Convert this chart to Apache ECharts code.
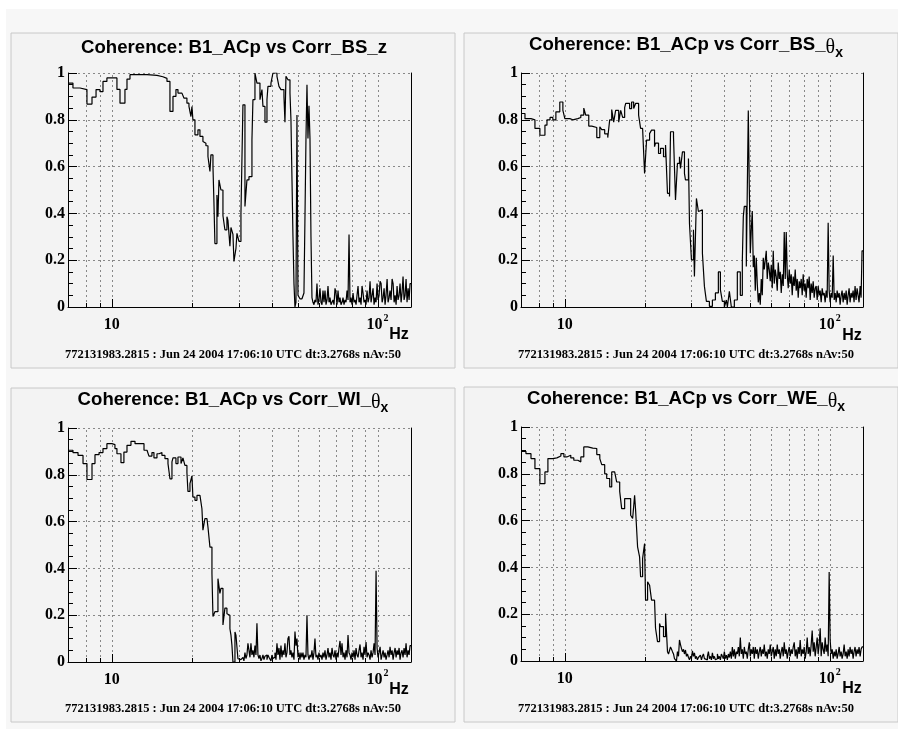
<!DOCTYPE html>
<html><head><meta charset="utf-8">
<script src="https://cdn.jsdelivr.net/npm/echarts@6/dist/echarts.min.js"></script>
<style>html,body{margin:0;padding:0;background:#fff;}#c{width:898px;height:729px;}</style>
</head><body><div id="c"></div>
<script>
// ---- tick / grid frequencies (Hz) ----
const gridFreqs = [8, 9, 10, 20, 30, 40, 50, 60, 70, 80, 90, 100];
const majorFreqs = [10, 100];
const xMinHz = 6.83, xMaxHz = 133.6;

// ---- titles / footer ----
const panelTitles = [
  ['Coherence: B1_ACp vs Corr_BS_z', '', ''],
  ['Coherence: B1_ACp vs Corr_BS_', 'θ', 'x'],
  ['Coherence: B1_ACp vs Corr_WI_', 'θ', 'x'],
  ['Coherence: B1_ACp vs Corr_WE_', 'θ', 'x']
];
const footerText = '772131983.2815 : Jun 24 2004 17:06:10 UTC dt:3.2768s nAv:50';
const unitText = 'Hz';

// ---- coherence data: [frequency Hz, coherence] (left bin edges) ----
const bsZ = [[6.83,0.957],[7.13,0.936],[7.58,0.929],[8.05,0.867],[8.41,0.897],[8.71,0.929],[9.01,0.92],[9.25,0.964],[9.57,0.979],[10.44,0.93],[10.72,0.871],[11.19,0.93],[11.39,0.974],[11.69,0.993],[13.55,0.99],[14.77,0.984],[15.55,0.977],[16.11,0.964],[16.53,0.836],[16.97,0.90],[17.41,0.929],[17.72,0.914],[18.34,0.907],[18.66,0.893],[19.15,0.871],[19.49,0.857],[19.83,0.814],[20.0,0.857],[20.17,0.80],[20.53,0.736],[21.07,0.757],[21.44,0.729],[22.0,0.707],[22.38,0.70],[22.58,0.689],[22.98,0.643],[23.38,0.579],[23.58,0.65],[24.0,0.60],[24.2,0.45],[24.41,0.271],[24.84,0.479],[25.06,0.386],[25.28,0.543],[25.72,0.50],[26.17,0.39],[26.62,0.33],[27.09,0.386],[27.33,0.37],[27.8,0.26],[28.05,0.34],[28.54,0.31],[28.79,0.195],[29.29,0.25],[29.55,0.315],[30.06,0.28],[30.59,0.40],[31.12,0.864],[31.67,0.43],[32.22,0.543],[32.79,0.557],[33.65,0.714],[33.94,0.886],[34.54,1.0],[35.14,0.957],[36.07,0.886],[36.7,0.929],[37.02,0.857],[37.67,0.79],[38.33,0.886],[38.66,0.943],[39.68,0.957],[40.37,1.0],[41.8,0.986],[42.53,0.943],[43.27,0.929],[44.41,0.90],[44.8,0.79],[45.19,0.986],[45.98,0.971],[46.79,0.914],[47.19,0.80],[47.6,0.55],[48.02,0.30],[48.44,0.10],[48.86,0.0],[49.28,0.02],[49.71,0.82],[50.15,0.05],[51.02,0.035],[51.92,0.03],[52.82,0.06],[53.28,0.38],[53.75,0.72],[54.22,0.95],[54.69,0.72],[55.17,0.86],[55.65,0.72],[56.13,0.30],
[56.62,0.04],[57.11,0.02],[57.61,0.01],[58.11,0.03],[58.62,0.02],[59.13,0.10],[59.65,0.01],[60.17,0.03],[60.69,0.08],[61.22,0.02],[61.76,0.01],[62.3,0.07],[62.84,0.02],[63.39,0.07],[63.94,0.01],[64.5,0.03],[65.06,0.09],[65.63,0.02],[66.2,0.04],[66.78,0.01],[67.36,0.02],[67.95,0.03],[68.54,0.01],[69.14,0.08],[69.74,0.06],[70.35,0.01],[70.96,0.07],[71.58,0.02],[72.2,0.04],[72.83,0.01],[73.47,0.02],[74.11,0.04],[74.75,0.01],[75.4,0.03],[76.06,0.02],[76.72,0.07],[77.39,0.03],[78.07,0.31],[78.75,0.02],[79.43,0.04],[80.13,0.01],[80.82,0.06],[81.53,0.02],[82.24,0.03],[82.96,0.01],[83.68,0.05],[84.41,0.09],[85.14,0.02],[85.89,0.04],[86.64,0.01],[87.39,0.09],[88.15,0.06],[88.93,0.02],[89.7,0.03],[90.48,0.01],[91.27,0.07],[92.07,0.02],[92.87,0.04],[93.68,0.11],[94.49,0.02],[95.32,0.05],[96.15,0.08],[96.99,0.01],[97.83,0.04],[98.69,0.02],[99.55,0.10],[100.4,0.03],[101.3,0.05],[102.2,0.11],[103.1,0.10],[104.0,0.02],[104.9,0.04],[105.8,0.08],[106.7,0.01],[107.6,0.05],[108.6,0.12],[109.5,0.02],[110.5,0.04],[111.4,0.07],[112.4,0.03],[113.4,0.12],[114.4,0.10],[115.4,0.02],[116.4,0.05],[117.4,0.01],[118.4,0.09],[119.4,0.03],[120.5,0.05],[121.5,0.10],[122.6,0.02],[123.6,0.06],[124.7,0.13],[125.8,0.03],[126.9,0.05],[128.0,0.12],[129.1,0.02],[130.3,0.08],[131.4,0.03],[132.5,0.10],[133.6,0.10]];

const bsThetaX = [[6.83,0.827],[7.07,0.805],[7.45,0.80],[7.71,0.763],[8.05,0.734],[8.41,0.777],[8.56,0.80],[8.79,0.81],[9.01,0.80],[9.25,0.834],[9.57,0.876],[9.83,0.84],[10.0,0.805],[10.44,0.80],[10.72,0.805],[11.19,0.81],[11.49,0.82],[11.79,0.85],[11.99,0.82],[12.31,0.773],[12.64,0.767],[13.2,0.724],[13.55,0.77],[13.78,0.758],[14.14,0.74],[14.52,0.724],[14.77,0.80],[15.03,0.844],[15.29,0.79],[15.55,0.84],[15.97,0.79],[16.25,0.84],[16.53,0.81],[16.82,0.852],[16.97,0.87],[17.56,0.848],[17.87,0.876],[18.19,0.848],[18.5,0.87],[18.99,0.82],[19.32,0.763],[19.66,0.756],[20.0,0.571],[20.35,0.713],[20.89,0.741],[21.25,0.756],[21.81,0.685],[22.0,0.70],[22.58,0.656],[22.98,0.678],[23.58,0.642],[24.0,0.692],[24.41,0.486],[24.84,0.472],[25.06,0.749],[25.72,0.727],[26.17,0.457],[26.62,0.614],[27.09,0.642],[27.33,0.592],[27.8,0.663],[28.29,0.571],[28.54,0.543],[29.29,0.635],[29.55,0.358],[30.06,0.202],[30.59,0.33],[30.85,0.13],[31.39,0.464],[31.94,0.408],[32.5,0.415],[33.07,0.23],[33.65,0.088],[34.24,0.024],[35.14,0.003],[36.07,0.03],[37.02,0.06],[37.99,0.15],[38.66,0.074],[39.33,0.024],[40.02,0.0],[40.72,0.03],[41.08,0.0],[41.8,0.067],[42.53,0.0],[43.65,0.03],[44.8,0.15],[45.98,0.05],[46.79,0.20],[47.19,0.386],[47.6,0.43],[48.44,0.173],[49.28,0.84],[49.71,0.514],[50.15,0.23],[50.58,0.33],[51.02,0.41],[51.47,0.17],
[51.92,0.22],[52.37,0.07],[52.82,0.21],[53.28,0.10],[53.75,0.02],[54.22,0.06],[54.69,0.01],[55.17,0.12],[55.65,0.05],[56.13,0.21],[56.62,0.16],[57.11,0.20],[57.61,0.24],[58.11,0.12],[58.62,0.19],[59.13,0.16],[59.65,0.11],[60.17,0.18],[60.69,0.08],[61.22,0.24],[61.76,0.10],[62.3,0.16],[62.84,0.13],[63.39,0.07],[63.94,0.19],[64.5,0.12],[65.06,0.15],[65.63,0.06],[66.2,0.14],[66.78,0.09],[67.36,0.32],[67.95,0.12],[68.54,0.32],[69.14,0.14],[69.74,0.08],[70.35,0.16],[70.96,0.10],[71.58,0.14],[72.2,0.05],[72.83,0.13],[73.47,0.09],[74.11,0.16],[74.75,0.07],[75.4,0.12],[76.06,0.04],[76.72,0.11],[77.39,0.08],[78.07,0.12],[78.75,0.05],[79.43,0.14],[80.13,0.07],[80.82,0.10],[81.53,0.04],[82.24,0.12],[82.96,0.08],[83.68,0.13],[84.41,0.03],[85.14,0.10],[85.89,0.06],[86.64,0.11],[87.39,0.04],[88.15,0.08],[88.93,0.09],[89.7,0.03],[90.48,0.09],[91.27,0.05],[92.07,0.07],[92.87,0.02],[93.68,0.08],[94.49,0.05],[95.32,0.06],[96.15,0.02],[96.99,0.07],[97.83,0.04],[98.69,0.36],[99.55,0.07],[100.4,0.02],[101.3,0.06],[102.2,0.04],[103.1,0.22],[104.0,0.03],[104.9,0.06],[105.8,0.02],[106.7,0.07],[107.6,0.04],[108.6,0.06],[109.5,0.01],[110.5,0.05],[111.4,0.07],[112.4,0.02],[113.4,0.06],[114.4,0.03],[115.4,0.07],[116.4,0.01],[117.4,0.05],[118.4,0.08],[119.4,0.02],[120.5,0.06],[121.5,0.04],[122.6,0.07],[123.6,0.02],[124.7,0.09],[125.8,0.03],[126.9,0.08],[128.0,0.05],[129.1,0.02],[130.3,0.09],[131.4,0.04],[132.5,0.24],[133.6,0.24]];

const wiThetaX = [[6.83,0.905],[7.13,0.895],[7.45,0.883],[7.78,0.848],[8.05,0.78],[8.41,0.848],[8.63,0.886],[8.94,0.895],[9.25,0.912],[9.57,0.933],[10.0,0.929],[10.26,0.912],[10.44,0.89],[10.81,0.852],[11.09,0.897],[11.39,0.926],[11.79,0.943],[12.21,0.933],[13.2,0.905],[13.55,0.897],[13.78,0.88],[14.14,0.895],[14.39,0.872],[14.77,0.89],[15.03,0.895],[15.42,0.883],[15.83,0.869],[16.25,0.848],[16.53,0.783],[16.82,0.855],[16.97,0.872],[17.41,0.848],[17.72,0.876],[18.19,0.848],[18.5,0.872],[18.82,0.84],[19.15,0.809],[19.32,0.729],[19.66,0.762],[20.0,0.795],[20.17,0.705],[20.53,0.691],[20.89,0.712],[21.44,0.705],[21.81,0.655],[22.0,0.563],[22.38,0.613],[22.78,0.615],[22.98,0.577],[23.38,0.491],[23.79,0.377],[24.0,0.194],[24.41,0.215],[25.06,0.356],[25.49,0.293],[25.72,0.315],[26.17,0.158],[26.62,0.23],[27.09,0.206],[27.33,0.20],[27.8,0.142],[28.05,0.115],[28.29,0.071],[28.54,0.0],[29.04,0.128],[29.29,0.115],[29.8,0.014],
[30.06,0.02],[30.32,0.01],[30.59,0.005],[30.85,0.01],[31.12,0.02],[31.39,0.005],[31.67,0.04],[31.94,0.015],[32.22,0.03],[32.5,0.08],[32.79,0.05],[33.07,0.02],[33.36,0.08],[33.65,0.03],[33.94,0.05],[34.24,0.02],[34.54,0.07],[34.84,0.03],[35.14,0.165],[35.45,0.03],[35.76,0.015],[36.07,0.03],[36.38,0.005],[36.7,0.015],[37.02,0.03],[37.34,0.01],[37.67,0.025],[37.99,0.03],[38.33,0.01],[38.66,0.03],[39.0,0.02],[39.33,0.025],[39.68,0.005],[40.02,0.03],[40.37,0.015],[40.72,0.02],[41.08,0.04],[41.44,0.01],[41.8,0.08],[42.16,0.03],[42.53,0.06],[42.9,0.01],[43.27,0.07],[43.65,0.02],[44.03,0.05],[44.41,0.03],[44.8,0.08],[45.19,0.02],[45.58,0.04],[45.98,0.10],[46.38,0.11],[46.79,0.03],[47.19,0.05],[47.6,0.02],[48.02,0.04],[48.44,0.01],[48.86,0.13],[49.28,0.07],[49.71,0.10],[50.15,0.02],[50.58,0.04],[51.02,0.01],[51.47,0.04],[51.92,0.02],[52.37,0.04],[52.82,0.01],[53.28,0.03],[53.75,0.02],[54.22,0.20],[54.69,0.03],[55.17,0.01],[55.65,0.03],[56.13,0.02],[56.62,0.05],[57.11,0.01],[57.61,0.04],[58.11,0.10],[58.62,0.02],[59.13,0.03],[59.65,0.01],[60.17,0.04],[60.69,0.02],[61.22,0.03],[61.76,0.01],[62.3,0.04],[62.84,0.02],[63.39,0.05],[63.94,0.01],[64.5,0.03],[65.06,0.06],[65.63,0.02],[66.2,0.04],[66.78,0.01],[67.36,0.06],[67.95,0.03],[68.54,0.02],[69.14,0.05],[69.74,0.01],[70.35,0.04],[70.96,0.02],[71.58,0.06],[72.2,0.09],[72.83,0.03],[73.47,0.08],[74.11,0.02],[74.75,0.04],[75.4,0.01],[76.06,0.05],[76.72,0.02],[77.39,0.115],[78.07,0.04],[78.75,0.03],[79.43,0.01],[80.13,0.04],[80.82,0.02],[81.53,0.05],[82.24,0.01],[82.96,0.06],[83.68,0.03],[84.41,0.02],[85.14,0.05],[85.89,0.075],[86.64,0.02],[87.39,0.04],[88.15,0.01],[88.93,0.065],[89.7,0.03],[90.48,0.085],[91.27,0.02],[92.07,0.04],[92.87,0.03],[93.68,0.01],[94.49,0.05],[95.32,0.02],[96.15,0.04],[96.99,0.08],[97.83,0.03],[98.69,0.39],[99.55,0.06],[100.4,0.02],[101.3,0.04],[102.2,0.065],[103.1,0.01],[104.0,0.03],[104.9,0.05],[105.8,0.02],[106.7,0.04],[107.6,0.01],[108.6,0.03],[109.5,0.05],[110.5,0.02],[111.4,0.065],[112.4,0.03],[113.4,0.05],[114.4,0.01],[115.4,0.04],[116.4,0.06],[117.4,0.02],[118.4,0.05],[119.4,0.03],[120.5,0.06],[121.5,0.01],[122.6,0.04],[123.6,0.05],[124.7,0.02],[125.8,0.06],[126.9,0.03],[128.0,0.08],[129.1,0.02],[130.3,0.05],[131.4,0.03],[132.5,0.07],[133.6,0.07]];

const weThetaX = [[6.83,0.896],[7.13,0.886],[7.45,0.865],[7.71,0.822],[8.05,0.758],[8.41,0.808],[8.63,0.865],[9.01,0.868],[9.33,0.876],[9.66,0.886],[9.92,0.872],[10.17,0.879],[10.53,0.868],[10.81,0.858],[11.19,0.851],[11.49,0.872],[11.79,0.915],[12.21,0.91],[12.75,0.908],[13.2,0.882],[13.55,0.865],[13.78,0.839],[14.14,0.80],[14.39,0.78],[14.77,0.744],[15.03,0.808],[15.42,0.80],[15.69,0.765],[16.11,0.725],[16.39,0.651],[16.82,0.694],[17.72,0.623],[18.03,0.609],[18.34,0.708],[18.5,0.644],[18.82,0.488],[19.15,0.445],[19.32,0.36],[19.66,0.438],[20.0,0.502],[20.17,0.26],[20.53,0.339],[20.89,0.324],[21.25,0.26],[21.81,0.253],[22.0,0.14],[22.38,0.083],[22.78,0.16],[22.98,0.147],[23.58,0.104],[24.0,0.203],
[24.41,0.04],[24.63,0.03],[24.84,0.026],[25.06,0.06],[25.28,0.05],[25.49,0.04],[25.72,0.03],[25.94,0.01],[26.17,0.005],[26.39,0.0],[26.62,0.04],[26.86,0.02],[27.09,0.09],[27.33,0.07],[27.56,0.054],[27.8,0.04],[28.05,0.05],[28.29,0.03],[28.54,0.047],[28.79,0.02],[29.04,0.03],[29.29,0.015],[29.55,0.005],[29.8,0.02],[30.06,0.01],[30.32,0.043],[30.59,0.02],[30.85,0.035],[31.12,0.01],[31.39,0.02],[31.67,0.005],[31.94,0.015],[32.22,0.01],[32.5,0.025],[32.79,0.005],[33.07,0.02],[33.36,0.03],[33.65,0.01],[33.94,0.015],[34.24,0.005],[34.54,0.02],[34.84,0.04],[35.14,0.01],[35.45,0.02],[35.76,0.005],[36.07,0.035],[36.38,0.01],[36.7,0.02],[37.02,0.005],[37.34,0.01],[37.67,0.03],[37.99,0.01],[38.33,0.02],[38.66,0.005],[39.0,0.03],[39.33,0.02],[39.68,0.01],[40.02,0.04],[40.37,0.01],[40.72,0.025],[41.08,0.005],[41.44,0.03],[41.8,0.015],[42.16,0.04],[42.53,0.01],[42.9,0.06],[43.27,0.02],[43.65,0.05],[44.03,0.01],[44.41,0.04],[44.8,0.03],[45.19,0.06],[45.58,0.02],[45.98,0.10],[46.38,0.03],[46.79,0.05],[47.19,0.01],[47.6,0.06],[48.02,0.03],[48.44,0.04],[48.86,0.01],[49.28,0.05],[49.71,0.08],[50.15,0.02],[50.58,0.05],[51.02,0.03],[51.47,0.06],[51.92,0.01],[52.37,0.06],[52.82,0.03],[53.28,0.05],[53.75,0.01],[54.22,0.04],[54.69,0.06],[55.17,0.02],[55.65,0.05],[56.13,0.03],[56.62,0.07],[57.11,0.02],[57.61,0.04],[58.11,0.01],[58.62,0.05],[59.13,0.03],[59.65,0.07],[60.17,0.02],[60.69,0.04],[61.22,0.06],[61.76,0.01],[62.3,0.05],[62.84,0.02],[63.39,0.07],[63.94,0.03],[64.5,0.05],[65.06,0.01],[65.63,0.04],[66.2,0.06],[66.78,0.02],[67.36,0.08],[67.95,0.03],[68.54,0.05],[69.14,0.01],[69.74,0.04],[70.35,0.06],[70.96,0.02],[71.58,0.05],[72.2,0.03],[72.83,0.06],[73.47,0.08],[74.11,0.02],[74.75,0.05],[75.4,0.01],[76.06,0.06],[76.72,0.03],[77.39,0.09],[78.07,0.02],[78.75,0.05],[79.43,0.03],[80.13,0.06],[80.82,0.01],[81.53,0.04],[82.24,0.10],[82.96,0.03],[83.68,0.06],[84.41,0.02],[85.14,0.07],[85.89,0.13],[86.64,0.04],[87.39,0.08],[88.15,0.02],[88.93,0.06],[89.7,0.10],[90.48,0.03],[91.27,0.07],[92.07,0.14],[92.87,0.02],[93.68,0.08],[94.49,0.05],[95.32,0.03],[96.15,0.10],[96.99,0.04],[97.83,0.07],[98.69,0.02],[99.55,0.38],[100.4,0.09],[101.3,0.03],[102.2,0.05],[103.1,0.01],[104.0,0.04],[104.9,0.02],[105.8,0.05],[106.7,0.01],[107.6,0.03],[108.6,0.06],[109.5,0.02],[110.5,0.04],[111.4,0.01],[112.4,0.03],[113.4,0.07],[114.4,0.02],[115.4,0.04],[116.4,0.01],[117.4,0.05],[118.4,0.02],[119.4,0.06],[120.5,0.03],[121.5,0.05],[122.6,0.01],[123.6,0.04],[124.7,0.06],[125.8,0.02],[126.9,0.05],[128.0,0.03],[129.1,0.06],[130.3,0.02],[131.4,0.05],[132.5,0.06],[133.6,0.06]];

const panelData = [bsZ, bsThetaX, wiThetaX, weThetaX];

// ---- layout (pixels) ----
const panels = [
  {box:[11,33,444,335], grid:[68,73,343,234], titleX:234, titleY:48, hz:[399,335], foot:[233,355]},
  {box:[464,33,434,335], grid:[521,73,342,234], titleX:686, titleY:45.5, hz:[852,336], foot:[686,355]},
  {box:[11,388,444,334], grid:[68,428,343,234], titleX:233, titleY:400, hz:[399,690], foot:[233,709]},
  {box:[464,387,434,335], grid:[521,427,342,234], titleX:686, titleY:399, hz:[852,689], foot:[686,709]}
];

const chart = echarts.init(document.getElementById('c'), null, {renderer:'canvas'});

const serif = 'Liberation Serif, Times New Roman, serif';
const sans = 'Liberation Sans, Arial, Helvetica, sans-serif';

const grids = [], xAxes = [], yAxes = [], series = [], graphics = [];

graphics.push({type:'rect', z:-100, shape:{x:6, y:9, width:892, height:720}, style:{fill:'#f7f7f7'}});

panels.forEach((p, i) => {
  graphics.push({type:'rect', z:-90, shape:{x:p.box[0], y:p.box[1], width:p.box[2], height:p.box[3]},
    style:{fill:'#f3f3f3', stroke:'#c8c8c8', lineWidth:1}});
  grids.push({left:p.grid[0], top:p.grid[1], width:p.grid[2], height:p.grid[3], containLabel:false});
  xAxes.push({
    type:'log', logBase:10, gridIndex:i, min:xMinHz, max:xMaxHz,
    axisLine:{show:true, onZero:false, lineStyle:{color:'#000', width:1}},
    axisTick:{show:false}, minorTick:{show:false}, splitLine:{show:false},
    axisLabel:{
      show:true, margin:-3, showMinLabel:false, showMaxLabel:false, hideOverlap:false,
      formatter: v => {
        if (Math.abs(v - majorFreqs[0]) < 1e-6) return '{n|10}{e| }';
        if (Math.abs(v - majorFreqs[1]) < 1e-6) return '{n|10}{s|2}';
        return '';
      },
      rich:{
        n:{fontFamily:serif, fontWeight:'bold', fontSize:16, color:'#000', lineHeight:16, verticalAlign:'bottom'},
        s:{fontFamily:serif, fontWeight:'bold', fontSize:10, color:'#000', lineHeight:29, verticalAlign:'middle', padding:[0,0,0,1]},
        e:{fontSize:1, lineHeight:29, verticalAlign:'top'}
      }
    }
  });
  yAxes.push({
    type:'value', gridIndex:i, min:0, max:1, interval:0.2,
    axisLine:{show:true, lineStyle:{color:'#000', width:1}},
    axisTick:{show:true, inside:true, length:9, lineStyle:{color:'#000', width:1}},
    minorTick:{show:true, splitNumber:4, length:5, lineStyle:{color:'#000', width:1}},
    splitLine:{show:true, lineStyle:{color:'#888', width:1, type:[2,3]}},
    axisLabel:{margin:3, fontFamily:serif, fontWeight:'bold', fontSize:16, color:'#000'}
  });
  yAxes.push({
    type:'value', gridIndex:i, min:0, max:1, position:'right',
    axisLine:{show:true, lineStyle:{color:'#000', width:1}},
    axisTick:{show:false}, axisLabel:{show:false}, splitLine:{show:false}
  });
  series.push({
    type:'custom', xAxisIndex:i, yAxisIndex:2*i, z:1, silent:true, animation:false,
    data: gridFreqs.map(f => [f, 0]),
    renderItem: (params, api) => {
      const f = api.value(0);
      const b = api.coord([f, 0]);
      const t = api.coord([f, 1]);
      const x = Math.round(b[0]) + 0.5;
      const major = majorFreqs.indexOf(f) >= 0;
      return {type:'group', children:[
        {type:'line', shape:{x1:x, y1:b[1], x2:x, y2:t[1]}, style:{stroke:'#888', lineWidth:1, lineDash:[2,3]}},
        {type:'line', shape:{x1:x, y1:b[1], x2:x, y2:b[1] - (major ? 8 : 4)}, style:{stroke:'#000', lineWidth:1}}
      ]};
    }
  });
  series.push({
    type:'line', xAxisIndex:i, yAxisIndex:2*i, z:3, step:'end', showSymbol:false, symbol:'none',
    animation:false, silent:true, clip:true,
    lineStyle:{color:'#000', width:1.2},
    data: panelData[i]
  });
  const t = panelTitles[i];
  graphics.push({type:'text', z:100, x:p.titleX, y:p.titleY - 10, style:{
    text: '{m|' + t[0] + '}' + (t[1] ? '{th|' + t[1] + '}{sb|' + t[2] + '}' : ''),
    align:'center', verticalAlign:'top',
    rich:{
      m:{fontFamily:sans, fontWeight:'bold', fontSize:18.6, fill:'#000', lineHeight:22, verticalAlign:'top'},
      th:{fontFamily:serif, fontWeight:'normal', fontSize:20, fill:'#000', lineHeight:25, verticalAlign:'middle'},
      sb:{fontFamily:sans, fontWeight:'bold', fontSize:14, fill:'#000', lineHeight:14, verticalAlign:'bottom'}
    }
  }});
  graphics.push({type:'text', z:100, x:p.hz[0], y:p.hz[1], style:{
    text:unitText, font:'bold 16px ' + sans, fill:'#000', align:'center', verticalAlign:'middle'}});
  graphics.push({type:'text', z:100, x:p.foot[0], y:p.foot[1], style:{
    text:footerText, font:'bold 12.5px ' + serif, fill:'#000', align:'center', verticalAlign:'middle'}});
});

chart.setOption({
  animation:false,
  backgroundColor:'#ffffff',
  grid:grids, xAxis:xAxes, yAxis:yAxes, series:series, graphic:graphics
});
</script>
</body></html>
